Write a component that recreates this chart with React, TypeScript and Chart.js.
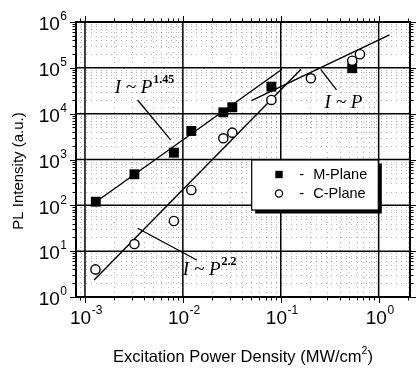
import { useEffect, useRef } from 'react';
import { Chart, registerables } from 'chart.js';

Chart.register(...registerables);

// ---- data ----
const mPlaneX = [0.00129, 0.0032, 0.0081, 0.0122, 0.0259, 0.032, 0.0802, 0.537];
const mPlaneY = [120, 476, 1408, 4190, 10700, 13800, 38800, 98000];

const cPlaneX = [0.00128, 0.0032, 0.0081, 0.0122, 0.0259, 0.032, 0.0802, 0.203, 0.537, 0.644];
const cPlaneY = [4.0, 14.3, 45.5, 216, 2900, 3850, 19900, 59100, 143000, 198000];

// fit lines
const fit145X = [0.00129, 0.103];
const fit145Y = [118, 93000];
const fit22X = [0.00124, 0.161];
const fit22Y = [2.35, 93000];
const fit1X = [0.0502, 1.29];
const fit1Y = [19200, 521000];

// pointer lines for the annotations
const ptr145X = [0.00345, 0.0075];
const ptr145Y = [19900, 2670];
const ptr22X = [0.00345, 0.01387];
const ptr22Y = [31.6, 6.4];
const ptr1X = [0.256, 0.371];
const ptr1Y = [93000, 32900];

// annotation labels: text, superscript, anchor (left, baseline) in data coords
const annoText = ['I ~ P', 'I ~ P', 'I ~ P'];
const annoSup = ['1.45', '', '2.2'];
const annoX = [0.00201, 0.2805, 0.01];
const annoY = [27800, 13100, 3.02];

// axes
const xRange = [0.00081, 2.09];
const yRange = [1, 1e6];
const xDecades = [-3, -2, -1, 0];
const yDecades = [0, 1, 2, 3, 4, 5, 6];
const xTitle = 'Excitation Power Density (MW/cm';
const xTitleSup = '2';
const yTitle = 'PL Intensity (a.u.)';
const legendLabels = ['M-Plane', 'C-Plane'];

const SANS = '"Liberation Sans", Arial, sans-serif';
const SERIF = '"Liberation Serif", "Times New Roman", serif';

const pts = (xs: number[], ys: number[]) => xs.map((x, i) => ({ x, y: ys[i] }));

function minorValues(lo: number, hi: number): number[] {
  const out: number[] = [];
  for (let e = Math.floor(Math.log10(lo)); e <= Math.ceil(Math.log10(hi)); e++) {
    for (let m = 1; m <= 9; m++) {
      const v = m * Math.pow(10, e);
      if (v >= lo * 0.999 && v <= hi * 1.001) out.push(v);
    }
  }
  return out;
}

const customPlugin = {
  id: 'custom',
  beforeDatasetsDraw(chart: any) {
    const { ctx, chartArea: a } = chart;
    const xs = chart.scales.x;
    const ys = chart.scales.y;
    ctx.save();
    // minor grid (dotted)
    ctx.strokeStyle = 'rgba(0,0,0,0.3)';
    ctx.lineWidth = 1;
    ctx.setLineDash([1, 4]);
    for (const v of minorValues(xRange[0], xRange[1])) {
      const lg = Math.log10(v);
      if (Math.abs(lg - Math.round(lg)) < 1e-9) continue;
      const px = Math.round(xs.getPixelForValue(v)) + 0.5;
      ctx.beginPath();
      ctx.moveTo(px, a.top);
      ctx.lineTo(px, a.bottom);
      ctx.stroke();
    }
    for (const v of minorValues(yRange[0], yRange[1])) {
      const lg = Math.log10(v);
      if (Math.abs(lg - Math.round(lg)) < 1e-9) continue;
      const py = Math.round(ys.getPixelForValue(v)) + 0.5;
      ctx.beginPath();
      ctx.moveTo(a.left, py);
      ctx.lineTo(a.right, py);
      ctx.stroke();
    }
    ctx.setLineDash([]);
    // major grid
    ctx.strokeStyle = '#000';
    ctx.lineWidth = 1.5;
    for (const e of xDecades) {
      const px = xs.getPixelForValue(Math.pow(10, e));
      ctx.beginPath();
      ctx.moveTo(px, a.top);
      ctx.lineTo(px, a.bottom);
      ctx.stroke();
    }
    for (const e of yDecades) {
      const py = ys.getPixelForValue(Math.pow(10, e));
      ctx.beginPath();
      ctx.moveTo(a.left, py);
      ctx.lineTo(a.right, py);
      ctx.stroke();
    }
    ctx.restore();
  },
  afterDraw(chart: any) {
    const { ctx, chartArea: a } = chart;
    const xs = chart.scales.x;
    const ys = chart.scales.y;
    ctx.save();
    // frame
    ctx.strokeStyle = '#000';
    ctx.lineWidth = 2;
    ctx.strokeRect(a.left, a.top, a.right - a.left, a.bottom - a.top);
    // ticks (outward)
    ctx.lineWidth = 1;
    for (const v of minorValues(xRange[0], xRange[1])) {
      const lg = Math.log10(v);
      const major = Math.abs(lg - Math.round(lg)) < 1e-9;
      const len = major ? 6 : 3.5;
      const px = Math.round(xs.getPixelForValue(v)) + 0.5;
      ctx.beginPath();
      ctx.moveTo(px, a.bottom);
      ctx.lineTo(px, a.bottom + len);
      ctx.moveTo(px, a.top);
      ctx.lineTo(px, a.top - len);
      ctx.stroke();
    }
    for (const v of minorValues(yRange[0], yRange[1])) {
      const lg = Math.log10(v);
      const major = Math.abs(lg - Math.round(lg)) < 1e-9;
      const len = major ? 6 : 3.5;
      const py = Math.round(ys.getPixelForValue(v)) + 0.5;
      ctx.beginPath();
      ctx.moveTo(a.left, py);
      ctx.lineTo(a.left - len, py);
      ctx.moveTo(a.right, py);
      ctx.lineTo(a.right + len, py);
      ctx.stroke();
    }

    // tick labels 10^n
    ctx.fillStyle = '#000';
    const baseFont = `19px ${SANS}`;
    const supFont = `12px ${SANS}`;
    const supStr = (e: number) => (e < 0 ? '-' + Math.abs(e) : String(e));
    ctx.textBaseline = 'middle';
    ctx.textAlign = 'left';
    for (const e of xDecades) {
      const px = xs.getPixelForValue(Math.pow(10, e));
      ctx.font = baseFont;
      const w1 = ctx.measureText('10').width;
      ctx.font = supFont;
      const s = supStr(e);
      const w2 = ctx.measureText(s).width;
      const left = px - (w1 + w2) / 2 + 1;
      ctx.font = baseFont;
      ctx.fillText('10', left, a.bottom + 22);
      ctx.font = supFont;
      ctx.fillText(s, left + w1 + 0.5, a.bottom + 13.5);
    }
    for (const e of yDecades) {
      const py = ys.getPixelForValue(Math.pow(10, e));
      ctx.font = baseFont;
      const w1 = ctx.measureText('10').width;
      ctx.font = supFont;
      const s = supStr(e);
      const w2 = ctx.measureText(s).width;
      const right = a.left - 9;
      const left = right - w1 - w2 - 0.5;
      ctx.font = baseFont;
      ctx.fillText('10', left, py + 3);
      ctx.font = supFont;
      ctx.fillText(s, left + w1 + 0.5, py - 5);
    }

    // axis titles
    ctx.textBaseline = 'alphabetic';
    ctx.font = `16.5px ${SANS}`;
    const wt = ctx.measureText(xTitle).width;
    ctx.font = `10.5px ${SANS}`;
    const ws = ctx.measureText(xTitleSup).width;
    ctx.font = `16.5px ${SANS}`;
    const wp = ctx.measureText(')').width;
    const total = wt + ws + wp;
    const cx = (a.left + a.right) / 2;
    let tx = cx - total / 2;
    ctx.fillText(xTitle, tx, a.bottom + 64.5);
    tx += wt;
    ctx.font = `10.5px ${SANS}`;
    ctx.fillText(xTitleSup, tx, a.bottom + 57);
    tx += ws;
    ctx.font = `16.5px ${SANS}`;
    ctx.fillText(')', tx, a.bottom + 64.5);

    ctx.save();
    ctx.translate(18.5, 171);
    ctx.rotate(-Math.PI / 2);
    ctx.font = `15px ${SANS}`;
    ctx.textAlign = 'center';
    ctx.textBaseline = 'middle';
    ctx.fillText(yTitle, 0, 0);
    ctx.restore();

    // annotations
    ctx.textAlign = 'left';
    ctx.textBaseline = 'alphabetic';
    annoText.forEach((t, i) => {
      const px = xs.getPixelForValue(annoX[i]);
      const py = ys.getPixelForValue(annoY[i]);
      ctx.font = `italic 19px ${SERIF}`;
      ctx.fillText(t, px, py);
      const w = ctx.measureText(t).width;
      if (annoSup[i]) {
        ctx.font = `bold 12px ${SERIF}`;
        ctx.fillText(annoSup[i], px + w + 1, py - 10);
      }
    });

    // legend box with shadow
    const lx = a.left + 175.7;
    const ly = a.top + 138;
    const lw = 126.6;
    const lh = 50;
    ctx.fillStyle = '#000';
    ctx.fillRect(lx + 3.5, ly + 3.5, lw, lh);
    ctx.fillStyle = '#fff';
    ctx.fillRect(lx, ly, lw, lh);
    ctx.strokeStyle = '#000';
    ctx.lineWidth = 1.2;
    ctx.strokeRect(lx, ly, lw, lh);
    ctx.fillStyle = '#000';
    const rowY = [ly + 14.5, ly + 33.5];
    const mx = lx + 27.3;
    // M-Plane marker
    ctx.fillRect(mx - 3.7, rowY[0] - 3.7, 7.4, 7.4);
    // C-Plane marker
    ctx.beginPath();
    ctx.arc(mx, rowY[1], 3.6, 0, Math.PI * 2);
    ctx.lineWidth = 1.2;
    ctx.stroke();
    ctx.font = `14.5px ${SANS}`;
    ctx.textBaseline = 'middle';
    legendLabels.forEach((lab, i) => {
      ctx.textAlign = 'center';
      ctx.fillText('-', lx + 50, rowY[i]);
      ctx.textAlign = 'left';
      ctx.fillText(lab, lx + 61.5, rowY[i]);
    });
    ctx.restore();
  },
};

export default function App() {
  const ref = useRef<HTMLCanvasElement | null>(null);
  useEffect(() => {
    if (!ref.current) return;
    const lineDs = (xs: number[], ys: number[], w: number) => ({
      data: pts(xs, ys),
      showLine: true,
      pointRadius: 0,
      borderColor: '#000',
      backgroundColor: '#000',
      borderWidth: w,
      order: 2,
    });
    const chart = new Chart(ref.current, {
      type: 'scatter',
      data: {
        datasets: [
          {
            label: 'C-Plane',
            data: pts(cPlaneX, cPlaneY),
            pointStyle: 'circle',
            pointRadius: 4.6,
            backgroundColor: '#fff',
            borderColor: '#000',
            borderWidth: 1.4,
            order: 0,
          },
          {
            label: 'M-Plane',
            data: pts(mPlaneX, mPlaneY),
            pointStyle: 'rect',
            pointRadius: 7,
            backgroundColor: '#000',
            borderColor: '#000',
            borderWidth: 0,
            order: 1,
          },
          lineDs(fit145X, fit145Y, 1.4),
          lineDs(fit22X, fit22Y, 1.4),
          lineDs(fit1X, fit1Y, 1.4),
          lineDs(ptr145X, ptr145Y, 1.3),
          lineDs(ptr22X, ptr22Y, 1.3),
          lineDs(ptr1X, ptr1Y, 1.3),
        ] as any,
      },
      options: {
        responsive: false,
        animation: false,
        devicePixelRatio: 1,
        events: [],
        layout: { padding: { left: 76, top: 22, right: 3, bottom: 71 } },
        scales: {
          x: { type: 'logarithmic', min: xRange[0], max: xRange[1], display: false },
          y: { type: 'logarithmic', min: yRange[0], max: yRange[1], display: false },
        },
        plugins: { legend: { display: false }, tooltip: { enabled: false } },
      } as any,
      plugins: [customPlugin],
    });
    return () => chart.destroy();
  }, []);
  return (
    <div style={{ position: 'fixed', left: 0, top: 0, width: 417, height: 368, background: '#fff' }}>
      <canvas ref={ref} width={417} height={368} style={{ width: 417, height: 368, display: 'block' }} />
    </div>
  );
}
